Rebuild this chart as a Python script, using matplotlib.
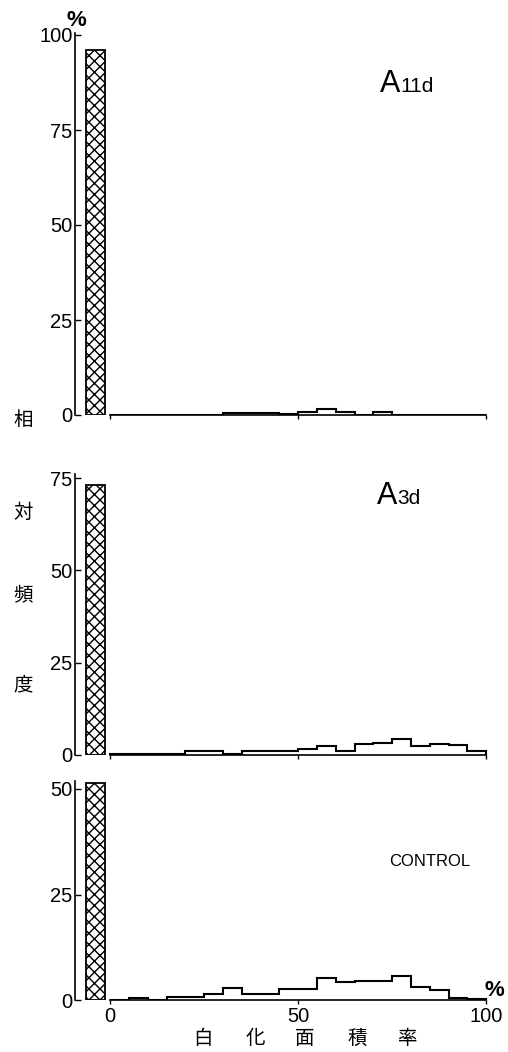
import matplotlib
matplotlib.use("Agg")
import matplotlib.pyplot as plt
import numpy as np

# ---- data ----
edges = list(range(0, 105, 5))
zero_class = [96, 73, 51.5]          # % of leaves with 0 % whitening
a11d = [0, 0, 0, 0, 0, 0, 0.6, 0.6, 0.6, 0.3, 0.9, 1.6, 0.7, 0, 0.8, 0, 0, 0, 0, 0]
a3d = [0.2, 0.2, 0.2, 0.2, 1.0, 1.0, 0.3, 1.0, 1.0, 1.0, 1.7, 2.5, 1.2, 3.0, 3.3, 4.2, 2.4, 3.0, 2.6, 1.2]
control = [0.1, 0.4, 0.1, 0.7, 0.8, 1.5, 2.8, 1.5, 1.5, 2.5, 2.5, 5.3, 4.2, 4.6, 4.6, 5.8, 3.1, 2.3, 0.5, 0.3]
series = [a11d, a3d, control]
yticks = [[0, 25, 50, 75, 100], [0, 25, 50, 75], [0, 25, 50]]
ylims = [(0, 100.5), (0, 76), (0, 52)]
xticks = [0, 50, 100]

NARROW = ['Liberation Sans Narrow', 'Liberation Sans', 'DejaVu Sans']
SANS = ['Liberation Sans', 'DejaVu Sans']
CJK = ['Noto Sans CJK JP', 'DejaVu Sans']
plt.rcParams['hatch.linewidth'] = 1.0

W, H = 508, 1052
fig = plt.figure(figsize=(W / 100, H / 100), dpi=100)

def fx(px):
    return px / W

def fy(py):
    return 1 - py / H

left_px, right_px = 74.5, 490
# (bottom_px, top_px) for each panel
panels = [(415, 35 - 0.5 * 3.8), (755, 478 - 1 * 3.69), (1000, 789 - 2 * 4.22)]

axes = []
for i, (b, t) in enumerate(panels):
    ax = fig.add_axes([fx(left_px), fy(b), fx(right_px - left_px), (b - t) / H])
    ax.set_xlim(-9.5, 101)
    ax.set_ylim(*ylims[i])
    ax.bar(-4, zero_class[i], width=5, color='white', edgecolor='black',
           hatch='xxx', linewidth=1.3, zorder=3)
    ax.stairs(series[i], edges, color='black', linewidth=1.5, baseline=0)
    for s in ['top', 'right']:
        ax.spines[s].set_visible(False)
    ax.spines['bottom'].set_bounds(0, 100)
    ax.spines['left'].set_linewidth(1.2)
    ax.spines['bottom'].set_linewidth(1.2)
    ax.set_yticks(yticks[i])
    ax.set_yticklabels([str(v) for v in yticks[i]], family=NARROW, fontsize=14.5)
    ax.tick_params(axis='y', direction='in', length=4, width=1, pad=1.5)
    ax.set_xticks(xticks)
    if i == 2:
        ax.set_xticklabels([str(v) for v in xticks], family=NARROW, fontsize=14.5)
    else:
        ax.set_xticklabels([])
    ax.tick_params(axis='x', direction='out', length=3, width=1, pad=2)
    axes.append(ax)

# top "%" and right "%"
fig.text(fx(76), fy(21), '%', family=NARROW, fontsize=16, fontweight='bold',
         ha='center', va='center')
fig.text(fx(494), fy(990), '%', family=NARROW, fontsize=16, fontweight='bold',
         ha='center', va='center')

# panel titles
fig.text(fx(400), fy(92), 'A', family=SANS, fontsize=22, ha='right', va='baseline')
fig.text(fx(400), fy(92), '11d', family=NARROW, fontsize=15, ha='left', va='baseline')
fig.text(fx(397), fy(504), 'A', family=SANS, fontsize=22, ha='right', va='baseline')
fig.text(fx(397), fy(504), '3d', family=SANS, fontsize=15, ha='left', va='baseline')
fig.text(fx(430), fy(862), 'CONTROL', family=SANS, fontsize=12, ha='center', va='center')

# vertical y label
for ch, y in zip(['相', '対', '頻', '度'], [420, 512, 596, 685]):
    fig.text(fx(23), fy(y), ch, family=CJK, fontsize=14, ha='center', va='center')

# x label
for ch, x in zip(['白', '化', '面', '積', '率'], [203, 255, 305, 357, 407]):
    fig.text(fx(x), fy(1038), ch, family=CJK, fontsize=14, ha='center', va='center')

fig.savefig('out.png', dpi=100)
